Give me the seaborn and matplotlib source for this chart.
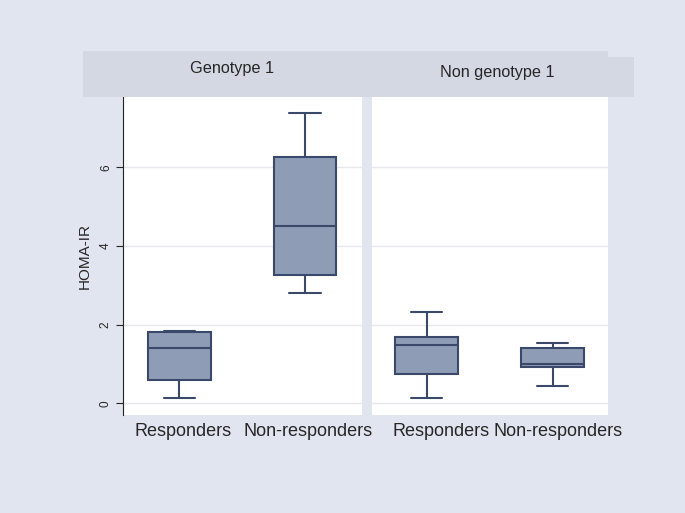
import numpy as np
import pandas as pd
import matplotlib
matplotlib.use("Agg")
import matplotlib.pyplot as plt
import matplotlib.transforms as mtransforms
import seaborn as sns
from matplotlib.patches import Rectangle

# five-number summaries: min, q1, median, q3, max
panels = ["Genotype 1", "Non genotype 1"]
groups = ["Responders", "Non-responders"]
g1_responders = [0.13, 0.58, 1.41, 1.81, 1.83]
g1_nonresponders = [2.80, 3.27, 4.52, 6.27, 7.39]
ng1_responders = [0.13, 0.75, 1.48, 1.69, 2.33]
ng1_nonresponders = [0.44, 0.92, 1.00, 1.40, 1.53]
yticks = [0, 2, 4, 6]

rows = []
for panel, vals in zip(panels, [(g1_responders, g1_nonresponders),
                                (ng1_responders, ng1_nonresponders)]):
    for grp, v in zip(groups, vals):
        for x in v:
            rows.append({"panel": panel, "group": grp, "HOMA-IR": x})
df = pd.DataFrame(rows)

bg = "#E1E5EF"
strip = "#D3D8E3"
fill = "#8F9CB5"
edge = "#3A4869"

sns.set_style("white")
plt.rcParams["font.family"] = ["Liberation Sans", "DejaVu Sans"]

fig = plt.figure(figsize=(6.85, 5.13), dpi=100)
fig.patch.set_facecolor(bg)
W, H = 685, 513

def fx(px):
    return px / W

def fy(py):
    return 1 - py / H

# strip headers (Stata style, slightly offset)
fig.patches.append(Rectangle((fx(83), fy(97)), fx(608) - fx(83), fy(51) - fy(97),
                             transform=fig.transFigure, facecolor=strip, edgecolor="none", zorder=0))
fig.patches.append(Rectangle((fx(360), fy(97)), fx(634) - fx(360), fy(57) - fy(97),
                             transform=fig.transFigure, facecolor=strip, edgecolor="none", zorder=0))
fig.text(fx(232), fy(68), panels[0], ha="center", va="center", fontsize=11.7)
fig.text(fx(497), fy(73), panels[1], ha="center", va="center", fontsize=11.7)

bounds = [(123, 362), (372, 608)]
xlims = [(-0.45, 1.454), (-0.433, 1.44)]
label_shift = [(4, 3), (15, 6)]  # px, Stata places labels a bit right
axes = []
for i, (panel, (x0, x1)) in enumerate(zip(panels, bounds)):
    ax = fig.add_axes([fx(x0), fy(415), fx(x1) - fx(x0), fy(97) - fy(415)])
    sub = df[df["panel"] == panel]
    sns.boxplot(data=sub, x="group", y="HOMA-IR", order=groups, whis=np.inf,
                width=0.5, color=fill, linecolor=edge, linewidth=1.5,
                saturation=1, ax=ax)
    for p in ax.patches:
        p.set_facecolor(fill)
    ax.set_ylim(-0.3, 7.79)
    ax.set_xlim(*xlims[i])
    ax.set_yticks(yticks)
    ax.yaxis.grid(True, color="#E6E8EE", linewidth=1)
    ax.set_axisbelow(True)
    for s in ax.spines.values():
        s.set_visible(False)
    ax.set_xlabel("")
    ax.tick_params(axis="x", length=0, labelsize=13, pad=6)
    for t, dx in zip(ax.get_xticklabels(), label_shift[i]):
        t.set_transform(t.get_transform() +
                        mtransforms.ScaledTranslation(dx / 100, 0, fig.dpi_scale_trans))
    if i == 0:
        ax.spines["left"].set_visible(True)
        ax.spines["left"].set_color("#222222")
        ax.spines["left"].set_linewidth(0.8)
        ax.tick_params(axis="y", left=True, length=5, width=0.8, labelsize=8.5,
                       labelrotation=90, pad=3)
        for t in ax.get_yticklabels():
            t.set_va("center")
        ax.set_ylabel("HOMA-IR", fontsize=11, labelpad=6)
    else:
        ax.tick_params(axis="y", left=False, labelleft=False)
        ax.set_ylabel("")
    axes.append(ax)

fig.savefig("out.png", dpi=100, facecolor=bg)
